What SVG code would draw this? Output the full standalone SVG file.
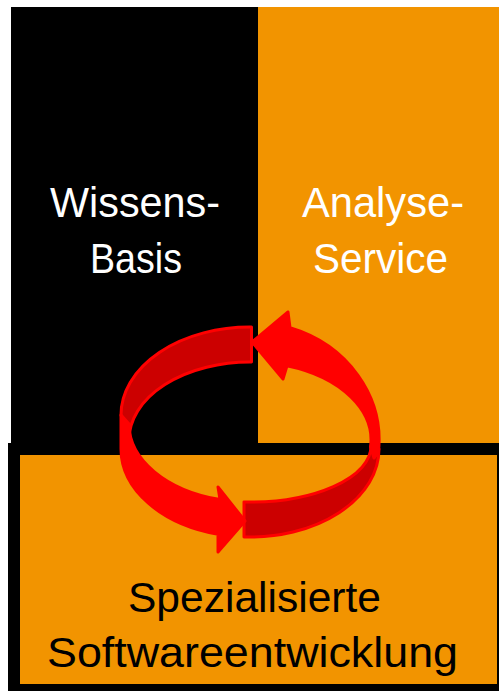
<svg xmlns="http://www.w3.org/2000/svg" width="499" height="691" viewBox="0 0 499 691">
<style>
.lbl{font-family:"Liberation Sans",Arial,sans-serif;font-size:42px}
.w{fill:#FFFFFF}
.k{fill:#000000}
.dark{fill:#CC0000;stroke:#FF0000;stroke-width:3;stroke-linejoin:round}
.bright{fill:#FF0000;stroke:#FF0000;stroke-width:3;stroke-linejoin:round}
</style>
<rect x="0" y="0" width="499" height="691" fill="#FFFFFF"/>
<g id="wissens-basis">
<rect x="11" y="7" width="247" height="442" fill="#000000"/>
<text class="lbl w" x="50" y="217" textLength="170" lengthAdjust="spacingAndGlyphs">Wissens-</text>
<text class="lbl w" x="90" y="273" textLength="92" lengthAdjust="spacingAndGlyphs">Basis</text>
</g>
<g id="analyse-service">
<rect x="258" y="7" width="241" height="436" fill="#F29400"/>
<text class="lbl w" x="302" y="217" textLength="162" lengthAdjust="spacingAndGlyphs">Analyse-</text>
<text class="lbl w" x="313" y="273" textLength="135" lengthAdjust="spacingAndGlyphs">Service</text>
</g>
<g id="spezialisierte-softwareentwicklung">
<rect x="14" y="449" width="489" height="241" fill="#F29400" stroke="#000000" stroke-width="12"/>
<text class="lbl k" x="128" y="612" textLength="253" lengthAdjust="spacingAndGlyphs">Spezialisierte</text>
<text class="lbl k" x="47" y="667" textLength="411" lengthAdjust="spacingAndGlyphs">Softwareentwicklung</text>
</g>
<g id="connectors">
<path class="dark" d="M 251.5 327 A 129 88 0 0 0 121 415 L 129 440 A 121 78 0 0 1 251.5 362 Z"/>
<path class="dark" d="M 244 536.9 A 129 88 0 0 0 379 449 L 371 446 A 121 56 0 0 1 244 501.9 Z"/>
<path class="bright" d="M 121 415 L 121 449 A 129 88 0 0 0 218 534.3 L 218 552 L 245 521 L 218 487 L 220 499.6 A 121 78 0 0 1 129 424 Z"/>
<path class="bright" d="M 288 312 L 252 342 L 283 379 L 287 365.7 A 121 78 0 0 1 370.5 447 L 374 458 L 378.4 452 A 129 118 0 0 0 290 327.8 Z"/>
</g>
</svg>
